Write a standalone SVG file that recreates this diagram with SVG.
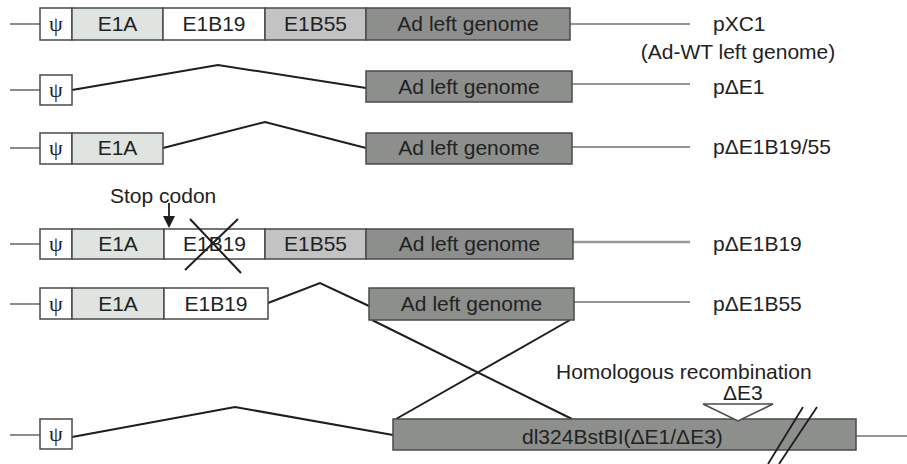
<svg xmlns="http://www.w3.org/2000/svg" width="907" height="464" viewBox="0 0 907 464">
  <style>
    text { font-family: "Liberation Sans", Arial, sans-serif; font-size: 21px; fill: #222; }
    .c { text-anchor: middle; }
    .psi { font-family: "Liberation Serif", "Times New Roman", serif; font-size: 22px; text-anchor: middle; }
    .box { stroke: #4a4a4a; stroke-width: 1.5; }
    .w { fill: #ffffff; }
    .e1a { fill: #e0e4e0; }
    .e55 { fill: #c3c3c3; }
    .ad { fill: #8d8f8c; }
    .thin { stroke: #707070; stroke-width: 1.6; fill: none; }
    .link { stroke: #1e1e1e; stroke-width: 2; fill: none; }
  </style>

  <!-- backbone lines and deletion loops -->
  <g id="connectors">
    <line class="thin" x1="10" y1="24" x2="40" y2="24"/>
    <line class="thin" x1="570" y1="24" x2="690" y2="24"/>

    <line class="thin" x1="10" y1="90" x2="40" y2="90"/>
    <polyline class="link" points="72,90 218,65 366,88"/>
    <line class="thin" x1="572" y1="84" x2="690" y2="84"/>

    <line class="thin" x1="10" y1="148" x2="40" y2="148"/>
    <polyline class="link" points="163,148 265,122 366,148"/>
    <line class="thin" x1="572" y1="147" x2="690" y2="147"/>

    <line class="thin" x1="10" y1="244" x2="40" y2="244"/>
    <line class="thin" x1="572" y1="242" x2="690" y2="242" style="stroke-width:2.5;stroke:#999"/>

    <line class="thin" x1="10" y1="304" x2="40" y2="304"/>
    <polyline class="link" points="268,303 320,283 369,306"/>
    <line class="thin" x1="574" y1="302" x2="690" y2="302"/>

    <!-- recombination cross -->
    <line class="link" x1="372" y1="320" x2="572" y2="419"/>
    <line class="link" x1="570" y1="320" x2="396" y2="419"/>

    <line class="thin" x1="10" y1="435" x2="40" y2="435"/>
    <polyline class="link" points="72,437 235,407 393,435"/>
    <line class="thin" x1="856" y1="436" x2="907" y2="436"/>

    <!-- stop codon arrow -->
    <line x1="169" y1="203" x2="169" y2="217" stroke="#1e1e1e" stroke-width="1.8"/>
    <polygon points="163,216 175,216 169,228" fill="#1e1e1e"/>
  </g>

  <!-- pXC1 -->
  <g id="pXC1">
    <rect class="box w" x="40" y="8" width="32" height="32"/>
    <text class="psi" x="56" y="31">ψ</text>
    <rect class="box e1a" x="72" y="8" width="91" height="32"/>
    <text class="c" x="117.5" y="31">E1A</text>
    <rect class="box w" x="163" y="8" width="102" height="32"/>
    <text class="c" x="214" y="31">E1B19</text>
    <rect class="box e55" x="265" y="8" width="101" height="32"/>
    <text class="c" x="315.5" y="31">E1B55</text>
    <rect class="box ad" x="366" y="8" width="204" height="32"/>
    <text class="c" x="468" y="31">Ad left genome</text>
    <text x="713" y="31">pXC1</text>
    <text class="c" x="738" y="59">(Ad-WT left genome)</text>
  </g>

  <!-- pΔE1 -->
  <g id="pdE1">
    <rect class="box w" x="40" y="75" width="32" height="30"/>
    <text class="psi" x="56" y="97">ψ</text>
    <rect class="box ad" x="366" y="71" width="206" height="31"/>
    <text class="c" x="469" y="93.5">Ad left genome</text>
    <text x="713" y="93.5">pΔE1</text>
  </g>

  <!-- pΔE1B19/55 -->
  <g id="pdE1B19-55">
    <rect class="box w" x="40" y="133" width="32" height="31"/>
    <text class="psi" x="56" y="155">ψ</text>
    <rect class="box e1a" x="72" y="133" width="91" height="31"/>
    <text class="c" x="117.5" y="155">E1A</text>
    <rect class="box ad" x="366" y="133" width="206" height="31"/>
    <text class="c" x="469" y="155">Ad left genome</text>
    <text x="713" y="154">pΔE1B19/55</text>
  </g>

  <!-- pΔE1B19 -->
  <g id="pdE1B19">
    <text x="110" y="203">Stop codon</text>
    <rect class="box w" x="40" y="229" width="32" height="30"/>
    <text class="psi" x="56" y="251">ψ</text>
    <rect class="box e1a" x="72" y="229" width="92" height="30"/>
    <text class="c" x="118" y="251">E1A</text>
    <rect class="box w" x="164" y="229" width="101" height="30"/>
    <text class="c" x="214.5" y="251">E1B19</text>
    <rect class="box e55" x="265" y="229" width="101" height="30"/>
    <text class="c" x="315.5" y="251">E1B55</text>
    <rect class="box ad" x="366" y="229" width="207" height="30"/>
    <text class="c" x="469.5" y="251">Ad left genome</text>
    <line x1="185" y1="270" x2="238" y2="219" stroke="#1e1e1e" stroke-width="2"/>
    <line x1="190" y1="219" x2="241" y2="273" stroke="#1e1e1e" stroke-width="2"/>
    <text x="713" y="251">pΔE1B19</text>
  </g>

  <!-- pΔE1B55 -->
  <g id="pdE1B55">
    <rect class="box w" x="40" y="288" width="32" height="31"/>
    <text class="psi" x="56" y="311">ψ</text>
    <rect class="box e1a" x="72" y="288" width="92" height="31"/>
    <text class="c" x="118" y="311">E1A</text>
    <rect class="box w" x="164" y="288" width="104" height="31"/>
    <text class="c" x="216" y="311">E1B19</text>
    <rect class="box ad" x="369" y="288" width="205" height="32"/>
    <text class="c" x="471.5" y="311">Ad left genome</text>
    <text x="713" y="311">pΔE1B55</text>
  </g>

  <!-- dl324BstBI backbone -->
  <g id="dl324BstBI">
    <text x="556" y="379">Homologous recombination</text>
    <text x="723" y="400">ΔE3</text>
    <rect class="box w" x="40" y="419" width="32" height="30"/>
    <text class="psi" x="56" y="441">ψ</text>
    <rect class="box ad" x="393" y="419" width="463" height="31"/>
    <text x="522" y="444">dl324BstBI(ΔE1/ΔE3)</text>
    <polygon points="703,404 773,404 738,421" fill="#ffffff" stroke="#4a4a4a" stroke-width="1.5"/>
    <line x1="768" y1="464" x2="803" y2="407" stroke="#1e1e1e" stroke-width="1.8"/>
    <line x1="779" y1="464" x2="817" y2="407" stroke="#1e1e1e" stroke-width="1.8"/>
  </g>
</svg>
